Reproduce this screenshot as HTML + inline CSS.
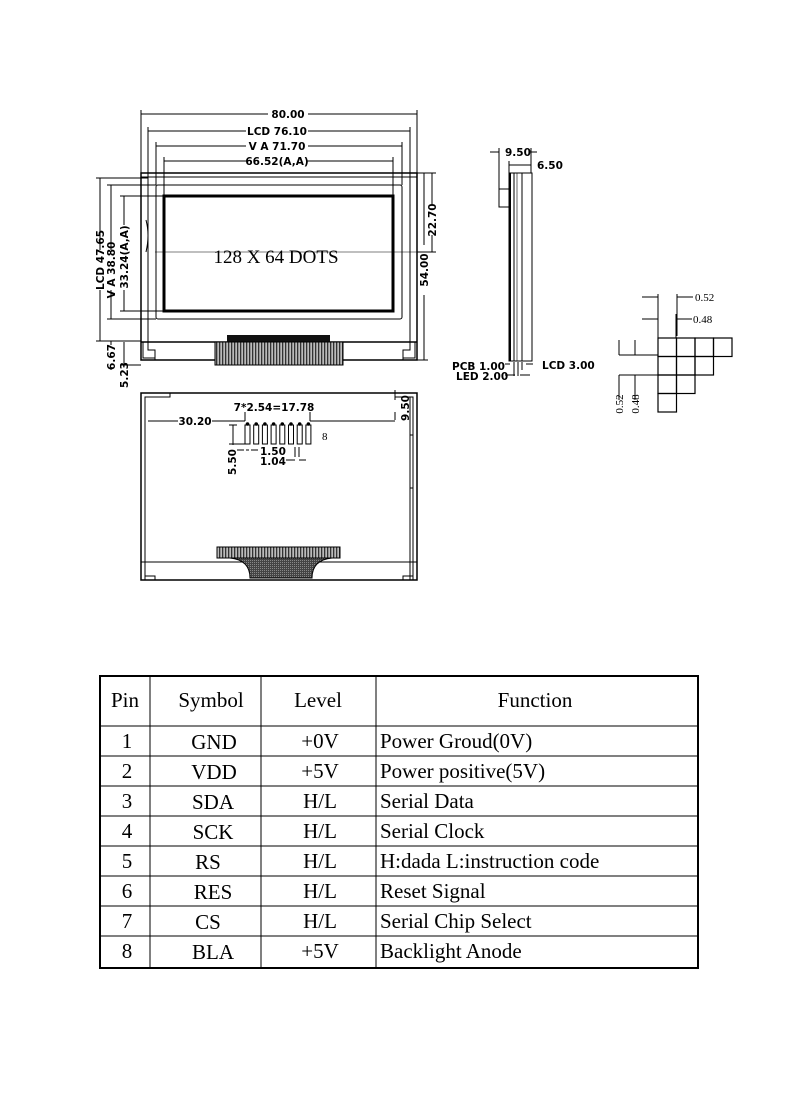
<!DOCTYPE html>
<html><head><meta charset="utf-8"><style>
html,body{margin:0;padding:0;background:#fff;width:790px;height:1111px;overflow:hidden}
svg{position:absolute;left:0;top:0}
.d{font-family:"DejaVu Sans","Liberation Sans",sans-serif;font-size:10.5px;font-weight:bold;fill:#000}
.s{font-family:"Liberation Serif",serif;fill:#000}
</style></head><body>
<svg width="790" height="1111" viewBox="0 0 790 1111" xmlns="http://www.w3.org/2000/svg">
<defs>
<pattern id="h" width="3" height="4" patternUnits="userSpaceOnUse"><rect width="3" height="4" fill="#bbb"/><rect width="1.3" height="4" fill="#333"/></pattern>
<pattern id="dk" width="2" height="2" patternUnits="userSpaceOnUse"><rect width="2" height="2" fill="#444"/><rect width="1" height="1" fill="#888"/></pattern>
</defs>
<g fill="none" stroke="#000" stroke-width="1">
<rect x="141" y="173" width="276" height="187" stroke-width="1.5"/>
<rect x="148" y="177" width="262" height="165"/>
<line x1="141" y1="177" x2="417" y2="177"/>
<rect x="156" y="185" width="246" height="134" rx="2"/>
<rect x="164" y="196" width="229" height="115" stroke-width="3"/>
<line x1="141" y1="342" x2="417" y2="342" stroke-width="1.5"/>
<path d="M148 342 V350 H155 V360 M410 342 V350 H403 V360" />
<path d="M143 342 V358 H155 M415 342 V358 H403"/>
<path d="M146 220 Q150 235 146 252"/>
<line x1="155" y1="252" x2="424" y2="252" stroke-width="0.6"/>
<path d="M141 114 H268 M308 114 H417 M141 110 V173 M417 110 V173"/>
<path d="M148 131 H246 M308 131 H410 M148 127 V177 M410 127 V177"/>
<path d="M156 146 H246 M308 146 H402 M156 142 V185 M402 142 V185"/>
<path d="M164 161 H248 M306 161 H393 M164 157 V196 M393 157 V196"/>
<path d="M100 178 V250 M100 290 V341 M96 178 H148 M96 341 H141"/>
<path d="M111 185 V250 M111 290 V319 M107 185 H156 M107 319 H156"/>
<path d="M124 196 V225 M124 290 V311 M120 196 H164 M120 311 H164"/>
<path d="M111 341 V345 M111 368 V370 M124 342 V365 M120 365 H141"/>
<path d="M417 173 H436 M432 173 V205 M432 235 V252 M417 252 H436"/>
<path d="M424 173 V245 M424 295 V360 M417 360 H428"/>
</g>
<rect x="227" y="335" width="103" height="7" fill="#111"/>
<rect x="215" y="342" width="128" height="23" fill="url(#h)" stroke="#000"/>
<text class="d" x="288" y="118" text-anchor="middle">80.00</text>
<text class="d" x="277" y="135" text-anchor="middle">LCD 76.10</text>
<text class="d" x="277" y="150" text-anchor="middle">V A 71.70</text>
<text class="d" x="277" y="165" text-anchor="middle">66.52(A,A)</text>
<text class="s" x="276" y="263" text-anchor="middle" font-size="19">128 X 64 DOTS</text>
<text class="d" transform="translate(104,260) rotate(-90)" text-anchor="middle">LCD 47.65</text>
<text class="d" transform="translate(115,270) rotate(-90)" text-anchor="middle">V A 38.80</text>
<text class="d" transform="translate(128,257) rotate(-90)" text-anchor="middle">33.24(A,A)</text>
<text class="d" transform="translate(436,220) rotate(-90)" text-anchor="middle">22.70</text>
<text class="d" transform="translate(428,270) rotate(-90)" text-anchor="middle">54.00</text>
<text class="d" transform="translate(115,357) rotate(-90)" text-anchor="middle">6.67</text>
<text class="d" transform="translate(128,375) rotate(-90)" text-anchor="middle">5.23</text>
<g fill="none" stroke="#000" stroke-width="1">
<rect x="141" y="393" width="276" height="187" stroke-width="1.5"/>
<path d="M145 580 V397 H170 V393 M413 580 V397 H395"/>
<line x1="141" y1="562" x2="417" y2="562"/>
<path d="M145 576 H155 V580 M413 576 H403 V580"/>
<path d="M410 397 V580 M410 435 H413 M410 488 H413"/>
<path d="M148 421 H178 M212 421 H245 M245 421 V412 M310 421 V412 M310 421 H395 M395 390 V400 M395 412 V420 M233 425 V445 M229 425 H237 M229 444 H245 M237 450 H244 M246 450 H249 M251 450 H258 M295 447 V457 M299 447 V457 M286 460 H295 M299 460 H306"/>
</g>
<g fill="#fff" stroke="#000">
<rect x="245" y="425" width="5" height="19"/><rect x="253.7" y="425" width="5" height="19"/><rect x="262.4" y="425" width="5" height="19"/><rect x="271.1" y="425" width="5" height="19"/><rect x="279.8" y="425" width="5" height="19"/><rect x="288.5" y="425" width="5" height="19"/><rect x="297.2" y="425" width="5" height="19"/><rect x="305.9" y="425" width="5" height="19"/>
</g>
<g fill="#000"><circle cx="247.5" cy="424" r="1.8"/><circle cx="256.2" cy="424" r="1.8"/><circle cx="264.9" cy="424" r="1.8"/><circle cx="273.6" cy="424" r="1.8"/><circle cx="282.3" cy="424" r="1.8"/><circle cx="291" cy="424" r="1.8"/><circle cx="299.7" cy="424" r="1.8"/><circle cx="308.4" cy="424" r="1.8"/></g>
<rect x="217" y="547" width="123" height="11" fill="url(#h)" stroke="#000"/>
<path d="M230 558 Q250 560 250 578 H312 Q312 560 332 558 Z" fill="url(#dk)" stroke="#000"/>
<text class="d" x="274" y="411" text-anchor="middle">7*2.54=17.78</text>
<text class="d" x="195" y="425" text-anchor="middle">30.20</text>
<text class="s" x="322" y="440" font-size="11">8</text>
<text class="d" x="260" y="455">1.50</text>
<text class="d" x="260" y="465">1.04</text>
<text class="d" transform="translate(236,462) rotate(-90)" text-anchor="middle">5.50</text>
<text class="d" transform="translate(409,408) rotate(-90)" text-anchor="middle">9.50</text>
<g fill="none" stroke="#000">
<rect x="509" y="173" width="23" height="188"/>
<line x1="510" y1="173" x2="510" y2="361" stroke-width="2"/>
<line x1="514" y1="173" x2="514" y2="361"/>
<line x1="517" y1="173" x2="517" y2="361" stroke-width="0.6"/>
<line x1="522" y1="173" x2="522" y2="361"/>
<rect x="499" y="189" width="10" height="18"/>
<path d="M490 152 H499 M499 148 V189 M531 152 H537 M509 165 H531 M509 161 V173 M531 148 V173 M505 364 H510 M514 362 V376 M518 362 V376 M522 362 V370 M526 364 H533 M505 375 H515 M520 375 H530"/>
</g>
<text class="d" x="505" y="156">9.50</text>
<text class="d" x="537" y="169">6.50</text>
<text class="d" x="452" y="370">PCB 1.00</text>
<text class="d" x="456" y="380">LED 2.00</text>
<text class="d" x="542" y="369">LCD 3.00</text>
<g fill="none" stroke="#000" stroke-width="1.2">
<rect x="658" y="338" width="18.5" height="18.5"/><rect x="676.5" y="338" width="18.5" height="18.5"/><rect x="695" y="338" width="18.5" height="18.5"/><rect x="713.5" y="338" width="18.5" height="18.5"/>
<rect x="658" y="356.5" width="18.5" height="18.5"/><rect x="676.5" y="356.5" width="18.5" height="18.5"/><rect x="695" y="356.5" width="18.5" height="18.5"/>
<rect x="658" y="375" width="18.5" height="18.5"/><rect x="676.5" y="375" width="18.5" height="18.5"/>
<rect x="658" y="393.5" width="18.5" height="18.5"/>
</g>
<g fill="none" stroke="#000">
<path d="M658 294 V338 M677 294 V336 M642 297 H658 M677 297 H693 M676 314 V338 M642 319 H658 M676 319 H692 M619 355 H658 M619 375 H658 M635 355 H658 M619 340 V355 M619 375 V400 M635 340 V355 M635 375 V400"/>
</g>
<text class="s" x="695" y="301" font-size="11">0.52</text>
<text class="s" x="693" y="323" font-size="11">0.48</text>
<text class="s" transform="translate(623,404) rotate(-90)" text-anchor="middle" font-size="11">0.52</text>
<text class="s" transform="translate(639,404) rotate(-90)" text-anchor="middle" font-size="11">0.48</text>
<g fill="none" stroke="#000">
<rect x="100" y="676" width="598" height="292" stroke-width="2"/>
<path d="M150 676 V968 M261 676 V968 M376 676 V968"/>
<path d="M100 726 H698 M100 756 H698 M100 786 H698 M100 816 H698 M100 846 H698 M100 876 H698 M100 906 H698 M100 936 H698"/>
</g>
<g class="s" font-size="21">
<text x="125" y="707" text-anchor="middle">Pin</text><text x="211" y="707" text-anchor="middle">Symbol</text><text x="318" y="707" text-anchor="middle">Level</text><text x="535" y="707" text-anchor="middle">Function</text>
<g text-anchor="middle">
<text x="127" y="748">1</text><text x="127" y="778">2</text><text x="127" y="808">3</text><text x="127" y="838">4</text><text x="127" y="868">5</text><text x="127" y="898">6</text><text x="127" y="928">7</text><text x="127" y="958">8</text>
<text x="214" y="749">GND</text><text x="214" y="779">VDD</text><text x="213" y="809">SDA</text><text x="213" y="839">SCK</text><text x="208" y="869">RS</text><text x="213" y="899">RES</text><text x="208" y="929">CS</text><text x="213" y="959">BLA</text>
<text x="320" y="748">+0V</text><text x="320" y="778">+5V</text><text x="320" y="808">H/L</text><text x="320" y="838">H/L</text><text x="320" y="868">H/L</text><text x="320" y="898">H/L</text><text x="320" y="928">H/L</text><text x="320" y="958">+5V</text>
</g>
<text x="380" y="748">Power Groud(0V)</text><text x="380" y="778">Power positive(5V)</text><text x="380" y="808">Serial Data</text><text x="380" y="838">Serial Clock</text><text x="380" y="868">H:dada L:instruction code</text><text x="380" y="898">Reset Signal</text><text x="380" y="928">Serial Chip Select</text><text x="380" y="958">Backlight Anode</text>
</g>
</svg>
</body></html>
